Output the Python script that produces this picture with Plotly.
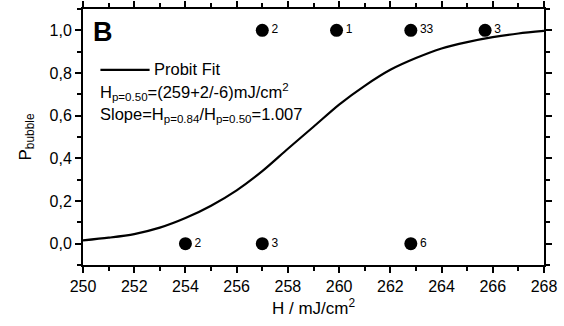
import plotly.graph_objects as go

# Measured points (H in mJ/cm^2, P_bubble) with count labels
pt_h = [254.0, 257.0, 262.8, 257.0, 259.9, 262.8, 265.7]
pt_p = [0, 0, 0, 1, 1, 1, 1]
pt_n = ["2", "3", "6", "2", "1", "33", "3"]

# Probit fit curve
fit_h = [250, 251, 252, 253, 254, 255, 256, 257, 258, 259, 260, 261, 262, 263, 264, 265, 266, 267, 268]
fit_p = [0.015, 0.028, 0.045, 0.075, 0.12, 0.178, 0.25, 0.34, 0.445, 0.548, 0.652, 0.74, 0.815, 0.87, 0.915, 0.945, 0.968, 0.985, 0.997]

x_ticks = [250, 252, 254, 256, 258, 260, 262, 264, 266, 268]
y_ticks = [0.0, 0.2, 0.4, 0.6, 0.8, 1.0]
y_ticktext = ["0,0", "0,2", "0,4", "0,6", "0,8", "1,0"]

FONT = "Arial, Liberation Sans, sans-serif"

fig = go.Figure()
fig.add_trace(go.Scatter(x=fit_h, y=fit_p, mode="lines", name="Probit Fit",
                         line=dict(color="black", width=2.2, shape="spline", smoothing=0.8),
                         showlegend=False))
fig.add_trace(go.Scatter(x=pt_h, y=pt_p, mode="markers+text", text=pt_n,
                         textposition="middle right",
                         textfont=dict(size=12, color="black", family=FONT),
                         marker=dict(size=13, color="black"), showlegend=False))

fig.update_layout(
    width=564, height=326,
    margin=dict(l=83, r=20, t=1, b=61),
    paper_bgcolor="white", plot_bgcolor="white",
    font=dict(family=FONT, color="black", size=16),
    xaxis=dict(range=[250, 268], tickvals=x_ticks, ticks="outside", ticklen=6,
               showline=True, linecolor="black", linewidth=2, showgrid=False,
               zeroline=False, tickcolor="black", tickwidth=1.5, mirror="allticks",
               minor=dict(dtick=1, ticks="outside", ticklen=4, tickcolor="black"),
               title=dict(text="H / mJ/cm<sup>2</sup>", font=dict(size=17), standoff=8),
               tickfont=dict(size=16)),
    yaxis=dict(range=[-0.1, 1.1], tickvals=y_ticks, ticktext=y_ticktext,
               ticks="outside", ticklen=6, mirror="allticks",
               showline=True, linecolor="black", linewidth=2, showgrid=False,
               zeroline=False, tickcolor="black", tickwidth=1.5,
               minor=dict(dtick=0.1, ticks="outside", ticklen=4, tickcolor="black"),
               title=dict(text="P<sub>bubble</sub>", font=dict(size=17), standoff=14),
               tickfont=dict(size=16)),
)

# Panel letter
fig.add_annotation(x=0.018, y=0.91, xref="paper", yref="paper", text="<b>B</b>",
                   showarrow=False, xanchor="left", yanchor="middle",
                   font=dict(size=27, family=FONT))

# Legend-style line and texts
fig.add_shape(type="line", xref="x", yref="y", x0=250.68, x1=252.6, y0=0.815, y1=0.815,
              line=dict(color="black", width=2.2))
fig.add_annotation(x=252.68, y=0.818, xref="x", yref="y", text="Probit Fit",
                   showarrow=False, xanchor="left", yanchor="middle",
                   font=dict(size=16.5, family=FONT))
fig.add_annotation(x=250.6, y=0.71, xref="x", yref="y",
                   text="H<sub>p=0.50</sub>=(259+2/-6)mJ/cm<sup>2</sup>",
                   showarrow=False, xanchor="left", yanchor="middle",
                   font=dict(size=16.5, family=FONT))
fig.add_annotation(x=250.6, y=0.605, xref="x", yref="y",
                   text="Slope=H<sub>p=0.84</sub>/H<sub>p=0.50</sub>=1.007",
                   showarrow=False, xanchor="left", yanchor="middle",
                   font=dict(size=16.5, family=FONT))

fig.write_html("out.html")
